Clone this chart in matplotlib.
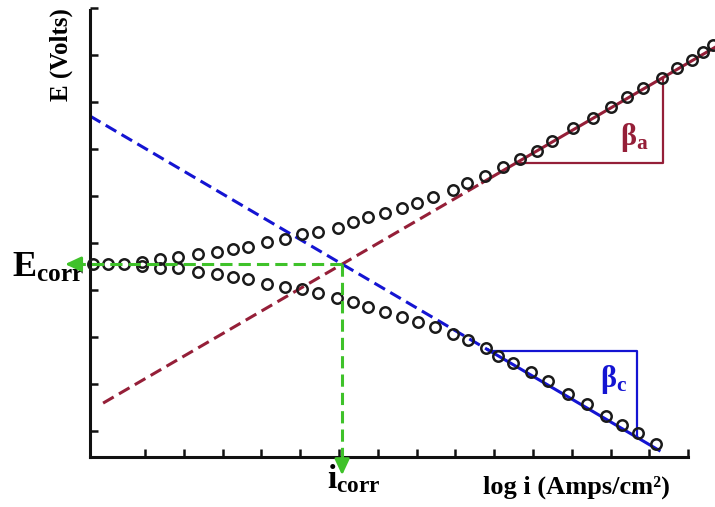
import numpy as np
import matplotlib.pyplot as plt

plt.rcParams["font.family"] = ["Liberation Serif", "DejaVu Serif"]
plt.rcParams["font.weight"] = "bold"
plt.rcParams["mathtext.fontset"] = "custom"
plt.rcParams["mathtext.rm"] = "Liberation Serif"
plt.rcParams["mathtext.bf"] = "Liberation Serif:bold"
plt.rcParams["mathtext.it"] = "Liberation Serif:italic"

# measured polarisation curve (arbitrary units: log i, E)
anodic_logi = [-0.34, 0.05, 0.46, 0.92, 1.39, 1.85, 2.37, 2.86, 3.27, 3.65, 4.14, 4.61, 5.05,
               5.46, 5.97, 6.36, 6.75, 7.19, 7.62, 8.01, 8.42, 8.94, 9.30, 9.76, 10.23, 10.66,
               11.10, 11.49, 12.03, 12.55, 13.01, 13.42, 13.84, 14.32, 14.71, 15.10, 15.38, 15.64]
anodic_E = [4.55, 4.55, 4.55, 4.60, 4.66, 4.70, 4.77, 4.81, 4.87, 4.91, 5.02, 5.09, 5.19,
            5.23, 5.32, 5.45, 5.55, 5.64, 5.74, 5.85, 5.98, 6.13, 6.28, 6.43, 6.62, 6.79,
            6.96, 7.17, 7.45, 7.66, 7.89, 8.11, 8.30, 8.51, 8.72, 8.89, 9.06, 9.21]
cathodic_logi = [0.92, 1.39, 1.85, 2.37, 2.86, 3.27, 3.65, 4.14, 4.61, 5.05, 5.46, 5.95, 6.36,
                 6.75, 7.19, 7.62, 8.04, 8.47, 8.94, 9.32, 9.79, 10.10, 10.48, 10.95, 11.39,
                 11.90, 12.39, 12.88, 13.29, 13.71, 14.17]
cathodic_E = [4.51, 4.47, 4.47, 4.38, 4.34, 4.28, 4.23, 4.13, 4.06, 4.02, 3.94, 3.83, 3.74,
              3.64, 3.53, 3.43, 3.32, 3.21, 3.06, 2.94, 2.77, 2.60, 2.45, 2.26, 2.06,
              1.79, 1.57, 1.32, 1.13, 0.96, 0.72]

# Tafel fit
E_corr = 4.55
logi_corr = 6.08
beta_a = 0.48
beta_c = 0.485

x_ticks = np.arange(1, 16)
y_ticks = np.arange(1, 11)

red = "#951f38"
blue = "#1414d2"
green = "#3fc22a"
dash = (4, 2)

fig = plt.figure(figsize=(7.15, 5.07), dpi=100)
ax = fig.add_axes([0, 0, 1, 1])
ax.set_xlim(-2.737, 15.69)
ax.set_ylim(-0.617, 10.17)

for s in ["top", "right"]:
    ax.spines[s].set_visible(False)
ax.spines["left"].set_position(("data", -0.42))
ax.spines["left"].set_bounds(0.447, 9.96)
ax.spines["bottom"].set_position(("data", 0.447))
ax.spines["bottom"].set_bounds(-0.42, 15.0)
for s in ["left", "bottom"]:
    ax.spines[s].set_linewidth(2.2)
    ax.spines[s].set_color("#111111")
ax.set_xticks(x_ticks)
ax.set_yticks(y_ticks)
ax.tick_params(direction="in", length=6, width=1.8, color="#111111",
               labelbottom=False, labelleft=False)


def tafel(x, e0, x0, b):
    return e0 + b * (np.asarray(x) - x0)


# anodic line
xa_d = np.array([-0.08, 9.7])
xa_s = np.array([9.7, 15.69])
ax.plot(xa_d, tafel(xa_d, E_corr, logi_corr, beta_a), color=red, lw=2.2, dashes=dash, zorder=2)
ax.plot(xa_s, tafel(xa_s, E_corr, logi_corr, beta_a), color=red, lw=2.2, zorder=2)
# cathodic line
xc_d = np.array([-0.42, 9.85])
xc_s = np.array([9.85, 14.25])
ax.plot(xc_d, tafel(xc_d, E_corr, logi_corr, -beta_c), color=blue, lw=2.2, dashes=dash, zorder=2)
ax.plot(xc_s, tafel(xc_s, E_corr, logi_corr, -beta_c), color=blue, lw=2.2, zorder=2)

# slope triangles
ya = 6.70
xa0 = logi_corr + (ya - E_corr) / beta_a
xa1 = 14.35
ax.plot([xa0, xa1, xa1], [ya, ya, tafel(xa1, E_corr, logi_corr, beta_a)], color=red, lw=1.6)
yc = 2.70
xc0 = logi_corr + (E_corr - yc) / beta_c
xc1 = 13.68
ax.plot([xc0, xc1, xc1], [yc, yc, tafel(xc1, E_corr, logi_corr, -beta_c)], color=blue, lw=1.6)

# data circles
ax.plot(anodic_logi, anodic_E, "o", mfc="none", mec="#1a1a1a", ms=7.5, mew=1.8, zorder=3)
ax.plot(cathodic_logi, cathodic_E, "o", mfc="none", mec="#1a1a1a", ms=7.5, mew=1.8, zorder=3)

# Ecorr / icorr guides
ax.plot([logi_corr, -0.75], [E_corr, E_corr], color=green, lw=2.2, dashes=dash, zorder=4)
ax.plot([logi_corr, logi_corr], [E_corr, 0.35], color=green, lw=2.2, dashes=dash, zorder=4)
head = dict(arrowstyle="-|>,head_length=0.6,head_width=0.28", color=green, lw=2,
            mutation_scale=16, shrinkA=0, shrinkB=0)
ax.annotate("", xy=(-1.06, E_corr), xytext=(-0.6, E_corr), arrowprops=head, zorder=4)
ax.annotate("", xy=(logi_corr, 0.06), xytext=(logi_corr, 0.45), arrowprops=head, zorder=4)

# labels
ax.text(-1.165, 9.0, "E (Volts)", rotation=90, ha="center", va="center", fontsize=18,
        fontweight="bold")
ax.text(12.11, -0.19, "log i (Amps/cm²)", ha="center", va="center", fontsize=19,
        fontweight="bold")
ax.text(-2.43, 4.28, r"$\mathbf{E}_{\mathbf{corr}}$", ha="left", va="baseline", fontsize=26)
ax.text(5.7, -0.22, r"$\mathbf{i}_{\mathbf{corr}}$", ha="left", va="baseline", fontsize=24)
ax.text(13.24, 7.09, r"$\mathrm{\beta}_{\mathbf{a}}$", ha="left", va="baseline", fontsize=22,
        color=red)
ax.text(12.73, 1.94, r"$\mathrm{\beta}_{\mathbf{c}}$", ha="left", va="baseline", fontsize=22,
        color=blue)

fig.savefig("out.png", dpi=100)
